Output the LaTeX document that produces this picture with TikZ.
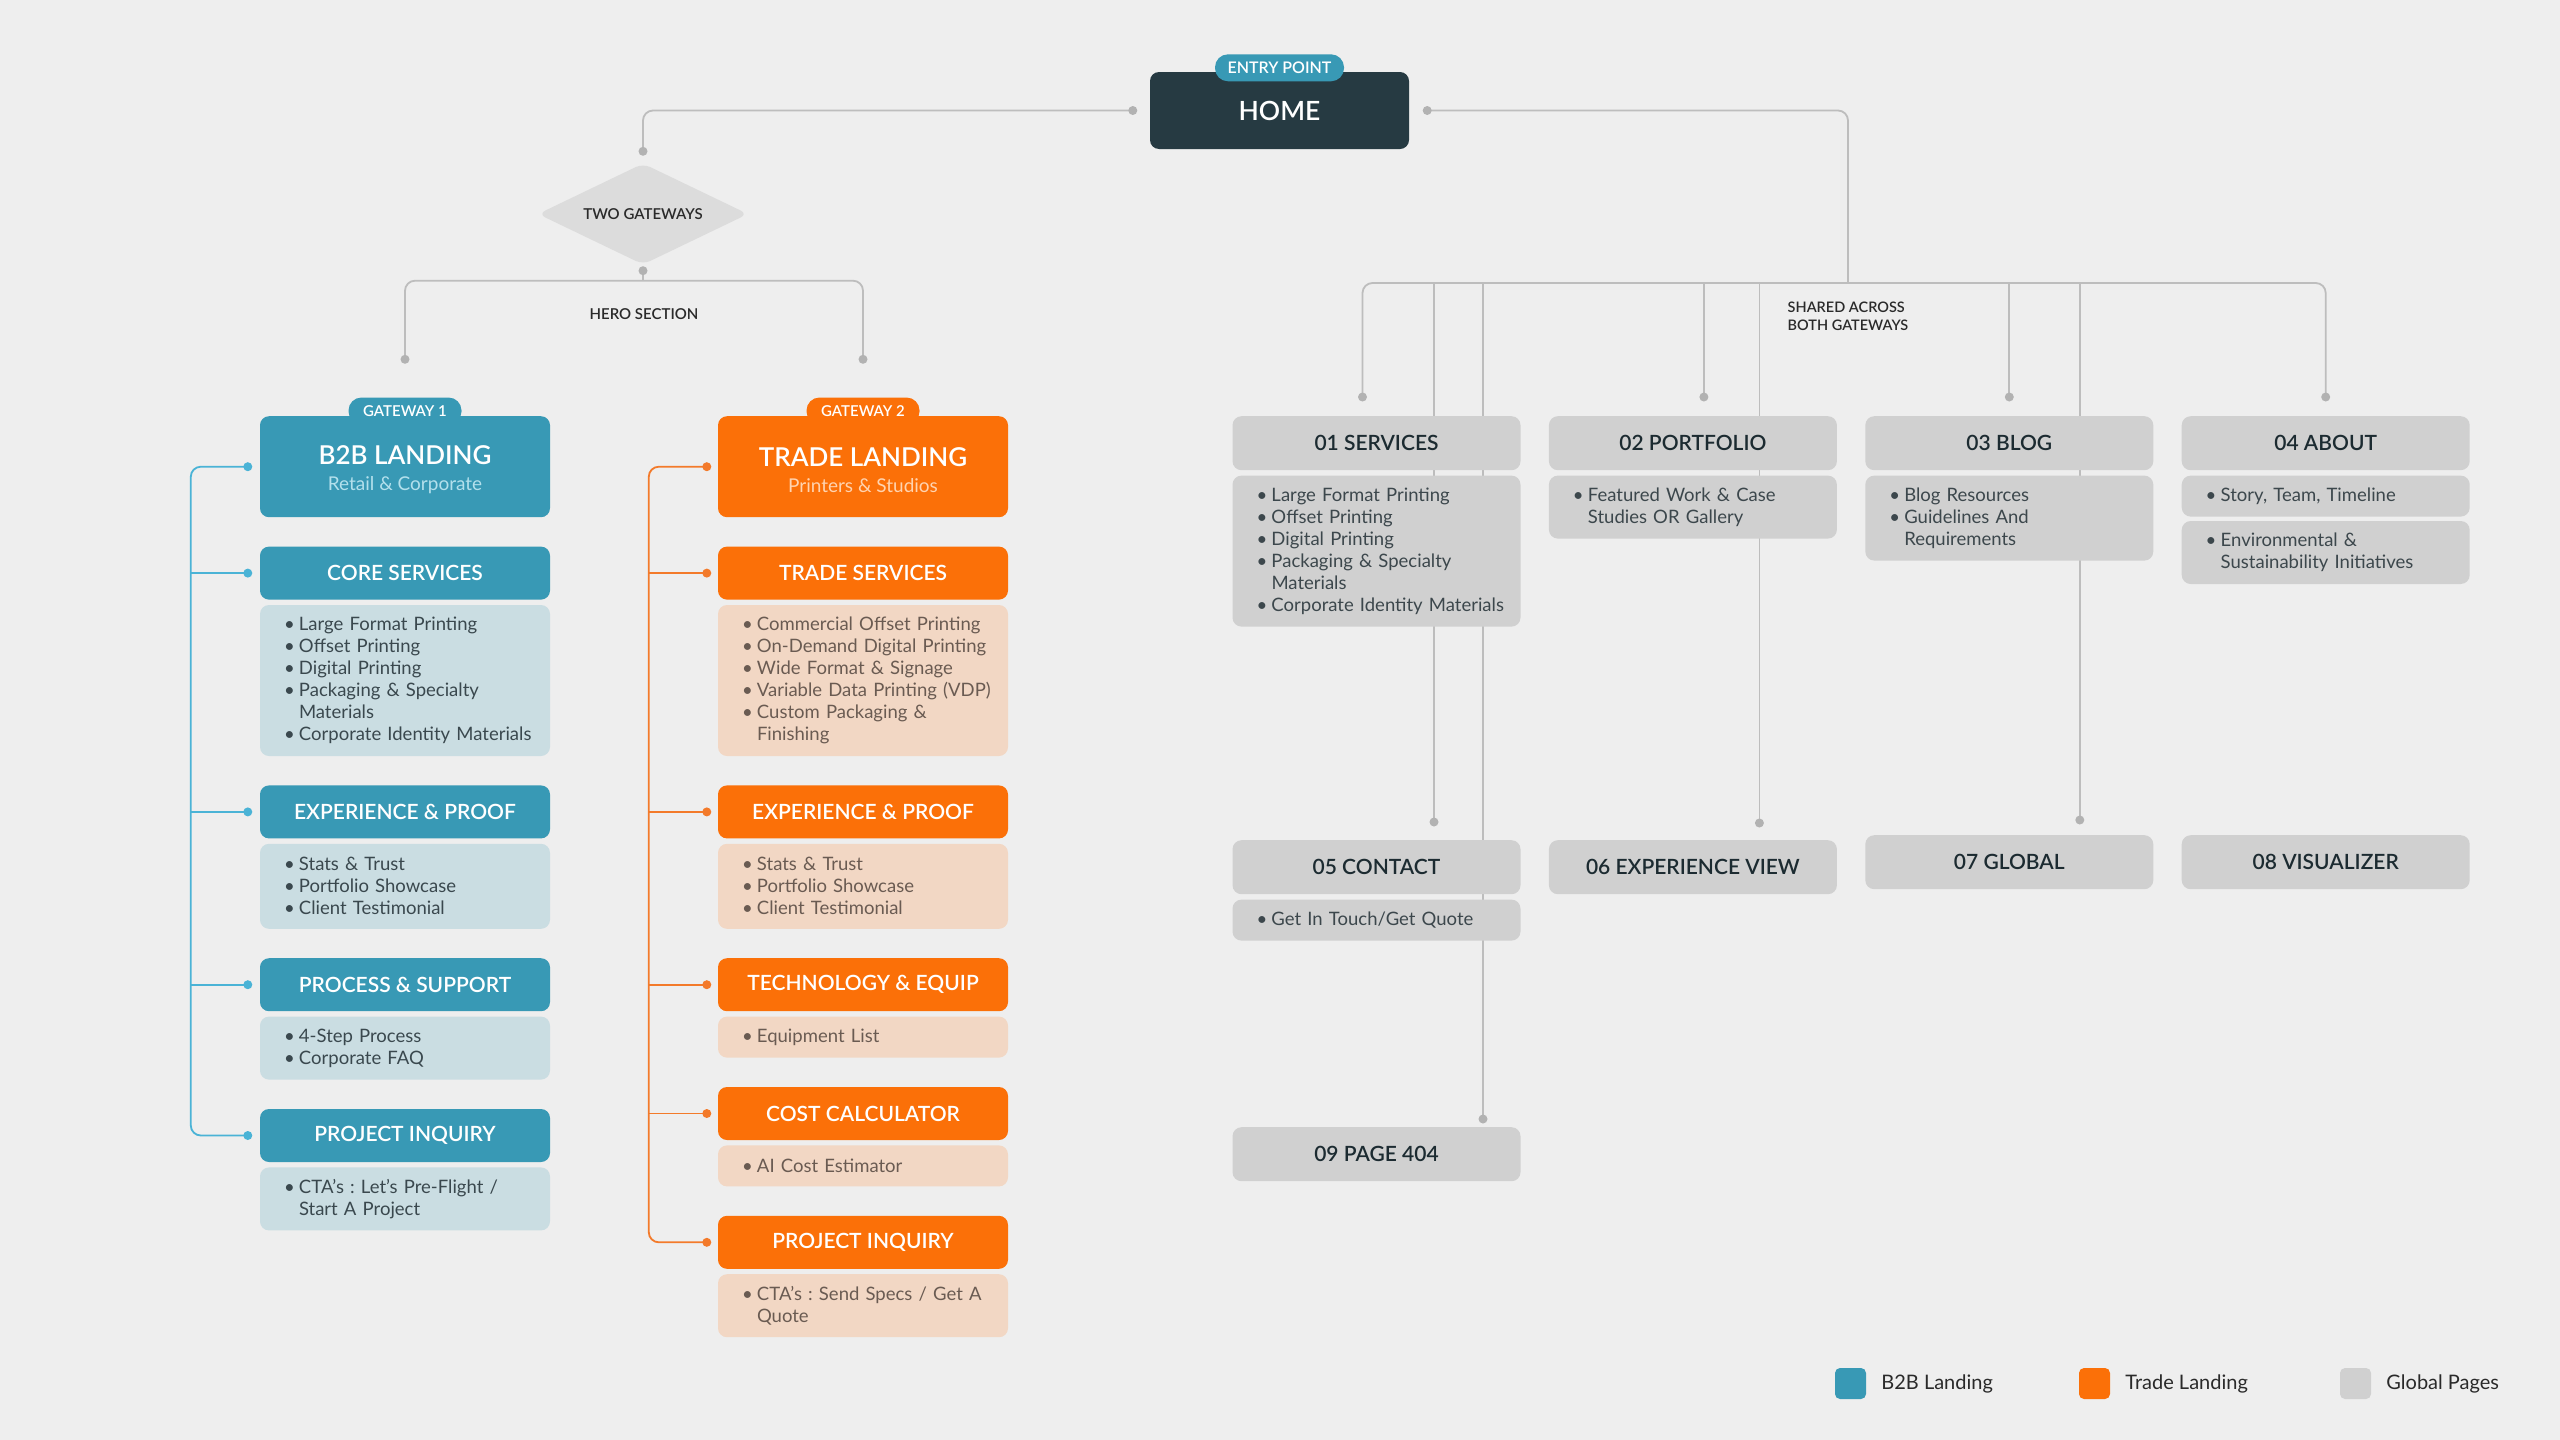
\documentclass[tikz,border=0pt]{standalone}
\usepackage{fontspec}
\setmainfont{Lato}
\IfFontExistsTF{Lato Semibold}{\newfontfamily\semib{Lato Semibold}}{\newcommand\semib{\bfseries}}
\usepackage{xcolor}
\usepackage{tikz}
\usetikzlibrary{positioning}
\usetikzlibrary{shapes.geometric}
\frenchspacing

\definecolor{pagebg}{HTML}{EEEEEE}
\definecolor{homedark}{HTML}{263A42}
\definecolor{tealmain}{HTML}{3899B5}
\definecolor{tealsoft}{HTML}{CADDE2}
\definecolor{tealline}{HTML}{4AB3D6}
\definecolor{tealsub}{HTML}{B3E0EC}
\definecolor{tealtext}{HTML}{3A484E}
\definecolor{orgmain}{HTML}{FB7008}
\definecolor{orgsoft}{HTML}{F2D7C4}
\definecolor{orgline}{HTML}{F37A2A}
\definecolor{orgsub}{HTML}{FFD3B0}
\definecolor{orgtext}{HTML}{6A5B52}
\definecolor{greybox}{HTML}{D0D0D0}
\definecolor{greyhead}{HTML}{1C2B31}
\definecolor{greytext}{HTML}{3C474C}
\definecolor{wirec}{HTML}{BDBDBD}
\definecolor{dotc}{HTML}{B2B2B2}
\definecolor{diamondc}{HTML}{DCDCDC}
\definecolor{labelc}{HTML}{2A2A2A}

\pgfdeclarelayer{bg}
\pgfdeclarelayer{wires}
\pgfsetlayers{bg,wires,main}

\newcommand{\bu}[1]{\hspace*{5pt}\makebox[15pt][l]{\textbullet}\mbox{#1}}
\newcommand{\ct}[1]{\hspace*{20pt}\mbox{#1}}

\tikzset{
    box/.style = {align=center, inner sep=0pt, rounded corners=9pt},
    nrows/.style = {minimum height=22pt*#1+19pt},
    land/.style = {box, text=white, minimum width=290pt, minimum height=101pt, font=\fontsize{19}{26}\selectfont},
    badge/.style = {box, text=white, rounded corners=13pt, minimum width=113pt, minimum height=27pt, font=\semib\fontsize{15}{15}\selectfont},
    t_head/.style = {box, fill=tealmain, text=white, minimum width=290pt, minimum height=53pt, font=\semib\fontsize{21}{24}\selectfont},
    t_body/.style = {box, fill=tealsoft, text=tealtext, align=left, text width=252pt, inner xsep=19pt, font=\fontsize{18.5}{22}\selectfont, nrows=#1},
    o_head/.style = {t_head, fill=orgmain},
    o_body/.style = {t_body=#1, fill=orgsoft, text=orgtext},
    g_head/.style = {t_head, fill=greybox, text=greyhead, minimum width=288pt, minimum height=54pt},
    g_body/.style = {t_body=#1, fill=greybox, text=greytext, text width=250pt},
    wire/.style = {draw=wirec, line width=1.8pt, rounded corners=10pt},
    t_wire/.style = {wire, draw=tealline},
    o_wire/.style = {wire, draw=orgline},
    note/.style = {inner sep=0pt, text=labelc, font=\semib\fontsize{15}{18}\selectfont},
    key/.style = {box, rounded corners=5pt, minimum size=31pt},
    keytext/.style = {inner sep=0pt, text=labelc, font=\fontsize{20}{24}\selectfont}
}

\begin{document}
\begin{tikzpicture}[x=1pt, y=1pt]

    \begin{pgfonlayer}{bg}
        \fill[pagebg] (0,0) rectangle (2560,-1440);
    \end{pgfonlayer}

    \node[box, fill=homedark, text=white, minimum width=259pt, minimum height=77pt, font=\semib\fontsize{26.5}{30}\selectfont] (home) at (1279.5,-110.5) {HOME};
    \node[badge, fill=tealmain, minimum width=129pt, font=\semib\fontsize{16}{16}\selectfont] (entry) at ([yshift=4pt]home.north) {ENTRY POINT};

    \node[diamond, aspect=2.08, fill=diamondc, minimum width=210pt, minimum height=101pt, rounded corners=8pt, note] (gates) at (643,-214) {TWO GATEWAYS};
    \node[note] (hero) at (644,-314) {HERO SECTION};

    \node[land, fill=tealmain, anchor=north] (b2b) at (405,-416)
        {\rule{0pt}{25pt}{\semib\fontsize{26}{26}\selectfont B2B LANDING}\\{\color{tealsub}Retail \& Corporate}};
    \node[badge, fill=tealmain] (gate1) at ([yshift=5pt]b2b.north) {GATEWAY 1};
    \node[t_head, below=29pt of b2b] (core) {CORE SERVICES};
    \node[t_body=6, below=5pt of core] (core_list)
        {\bu{Large Format Printing}\\ \bu{Offset Printing}\\ \bu{Digital Printing}\\
         \bu{Packaging \& Specialty}\\ \ct{Materials}\\ \bu{Corporate Identity Materials}};
    \node[t_head, below=29pt of core_list] (exp1) {EXPERIENCE \& PROOF};
    \node[t_body=3, below=5pt of exp1] (exp1_list)
        {\bu{Stats \& Trust}\\ \bu{Portfolio Showcase}\\ \bu{Client Testimonial}};
    \node[t_head, below=29pt of exp1_list] (proc) {PROCESS \& SUPPORT};
    \node[t_body=2, below=5pt of proc] (proc_list)
        {\bu{4-Step Process}\\ \bu{Corporate FAQ}};
    \node[t_head, below=29pt of proc_list] (inq1) {PROJECT INQUIRY};
    \node[t_body=2, below=5pt of inq1] (inq1_list)
        {\bu{CTA’s : Let's Pre-Flight /}\\ \ct{Start A Project}};

    \node[land, fill=orgmain, anchor=north] (trade) at (863,-416)
        {\rule{0pt}{25pt}{\semib\fontsize{26}{26}\selectfont TRADE LANDING}\\{\color{orgsub}Printers \& Studios}};
    \node[badge, fill=orgmain] (gate2) at ([yshift=5pt]trade.north) {GATEWAY 2};
    \node[o_head, below=29pt of trade] (tsvc) {TRADE SERVICES};
    \node[o_body=6, below=5pt of tsvc] (tsvc_list)
        {\bu{Commercial Offset Printing}\\ \bu{On-Demand Digital Printing}\\ \bu{Wide Format \& Signage}\\
         \bu{Variable Data Printing (VDP)}\\ \bu{Custom Packaging \&}\\ \ct{Finishing}};
    \node[o_head, below=29pt of tsvc_list] (exp2) {EXPERIENCE \& PROOF};
    \node[o_body=3, below=5pt of exp2] (exp2_list)
        {\bu{Stats \& Trust}\\ \bu{Portfolio Showcase}\\ \bu{Client Testimonial}};
    \node[o_head, below=29pt of exp2_list] (tech) {TECHNOLOGY \& EQUIP};
    \node[o_body=1, below=5pt of tech] (tech_list) {\bu{Equipment List}};
    \node[o_head, below=29pt of tech_list] (cost) {COST CALCULATOR};
    \node[o_body=1, below=5pt of cost] (cost_list) {\bu{AI Cost Estimator}};
    \node[o_head, below=29pt of cost_list] (inq2) {PROJECT INQUIRY};
    \node[o_body=2, below=5pt of inq2] (inq2_list)
        {\bu{CTA’s : Send Specs / Get A}\\ \ct{Quote}};

    \node[g_head, anchor=north] (s01) at (1376.5,-416) {01 SERVICES};
    \node[g_head, right=28pt of s01] (s02) {02 PORTFOLIO};
    \node[g_head, right=28pt of s02] (s03) {03 BLOG};
    \node[g_head, right=28pt of s03] (s04) {04 ABOUT};
    \node[g_body=6, below=5pt of s01] (s01_list)
        {\bu{Large Format Printing}\\ \bu{Offset Printing}\\ \bu{Digital Printing}\\
         \bu{Packaging \& Specialty}\\ \ct{Materials}\\ \bu{Corporate Identity Materials}};
    \node[g_body=2, below=5pt of s02] (s02_list)
        {\bu{Featured Work \& Case}\\ \ct{Studies OR Gallery}};
    \node[g_body=3, below=5pt of s03] (s03_list)
        {\bu{Blog Resources}\\ \bu{Guidelines And}\\ \ct{Requirements}};
    \node[g_body=1, below=5pt of s04] (s04_list) {\bu{Story, Team, Timeline}};
    \node[g_body=2, below=4pt of s04_list] (s04_more)
        {\bu{Environmental \&}\\ \ct{Sustainability Initiatives}};

    \node[g_head, anchor=north] (s05) at (1376.5,-840) {05 CONTACT};
    \node[g_body=1, below=5pt of s05] (s05_list) {\bu{Get In Touch/Get Quote}};
    \node[g_head, right=28pt of s05] (s06) {06 EXPERIENCE VIEW};
    \node[g_head, right=28pt of s06, yshift=5pt] (s07) {07 GLOBAL};
    \node[g_head, right=28pt of s07] (s08) {08 VISUALIZER};
    \node[g_head, anchor=north] (s09) at (1376.5,-1127) {09 PAGE 404};

    \node[note, align=left, font=\semib\fontsize{14.5}{18}\selectfont] (shared) at (1848,-316) {SHARED ACROSS\\BOTH GATEWAYS};

    \node[key, fill=tealmain] (key1) at (1850.5,-1383.5) {};
    \node[keytext, right=15pt of key1] (key1_txt) {B2B Landing};
    \node[key, fill=orgmain] (key2) at (2094.5,-1383.5) {};
    \node[keytext, right=15pt of key2] (key2_txt) {Trade Landing};
    \node[key, fill=greybox] (key3) at (2355.5,-1383.5) {};
    \node[keytext, right=15pt of key3] (key3_txt) {Global Pages};

    \begin{pgfonlayer}{wires}
        \coordinate (d_home_l) at ([xshift=-17pt]home.west);
        \coordinate (d_home_r) at ([xshift=18pt]home.east);
        \coordinate (d_gates_t) at ([yshift=12pt]gates.north);
        \coordinate (d_gates_b) at ([yshift=-6pt]gates.south);
        \coordinate (hero_bus) at ([yshift=-10pt]d_gates_b);
        \coordinate (d_gate1) at ([yshift=38pt]gate1.north);
        \coordinate (d_gate2) at ([yshift=38pt]gate2.north);
        \draw[wire] (d_home_l) -| (d_gates_t);
        \draw[wire] (d_gates_b) -- (hero_bus);
        \draw[wire] (d_gate1) |- (hero_bus) -| (d_gate2);

        \coordinate (bus) at (1848,-283);
        \coordinate (d01) at ([xshift=-14pt,yshift=19pt]s01.north);
        \coordinate (d02) at ([xshift=11pt,yshift=19pt]s02.north);
        \coordinate (d03) at ([yshift=19pt]s03.north);
        \coordinate (d04) at ([yshift=19pt]s04.north);
        \coordinate (d05) at ([xshift=57.5pt,yshift=18pt]s05.north);
        \coordinate (d06) at ([xshift=66.5pt,yshift=17pt]s06.north);
        \coordinate (d07) at ([xshift=70.5pt,yshift=15pt]s07.north);
        \coordinate (d09) at ([xshift=106.5pt,yshift=8pt]s09.north);
        \draw[wire] (d_home_r) -| (bus);
        \draw[wire] (d01) |- (bus) -| (d04);
        \foreach \d in {d02,d03,d05,d06,d07,d09}
            \draw[wire] (bus -| \d) -- (\d);
        \foreach \d in {d_home_l,d_home_r,d_gates_t,d_gates_b,d_gate1,d_gate2,d01,d02,d03,d04,d05,d06,d07,d09}
            \fill[dotc] (\d) circle (4.5pt);

        \coordinate (t0) at ([xshift=-12pt]b2b.west);
        \coordinate (t1) at ([xshift=-12pt]core.west);
        \coordinate (t2) at ([xshift=-12pt]exp1.west);
        \coordinate (t3) at ([xshift=-12pt]proc.west);
        \coordinate (t4) at ([xshift=-12pt]inq1.west);
        \draw[t_wire] (t0) -- ++(-57pt,0) |- (t4);
        \foreach \t in {t1,t2,t3}
            \draw[t_wire] (\t) -- ++(-57pt,0);
        \foreach \t in {t0,t1,t2,t3,t4}
            \fill[tealline] (\t) circle (4.5pt);

        \coordinate (o0) at ([xshift=-11pt]trade.west);
        \coordinate (o1) at ([xshift=-11pt]tsvc.west);
        \coordinate (o2) at ([xshift=-11pt]exp2.west);
        \coordinate (o3) at ([xshift=-11pt]tech.west);
        \coordinate (o4) at ([xshift=-11pt]cost.west);
        \coordinate (o5) at ([xshift=-11pt]inq2.west);
        \draw[o_wire] (o0) -- ++(-58pt,0) |- (o5);
        \foreach \o in {o1,o2,o3,o4}
            \draw[o_wire] (\o) -- ++(-58pt,0);
        \foreach \o in {o0,o1,o2,o3,o4,o5}
            \fill[orgline] (\o) circle (4.5pt);
    \end{pgfonlayer}

\end{tikzpicture}
\end{document}
